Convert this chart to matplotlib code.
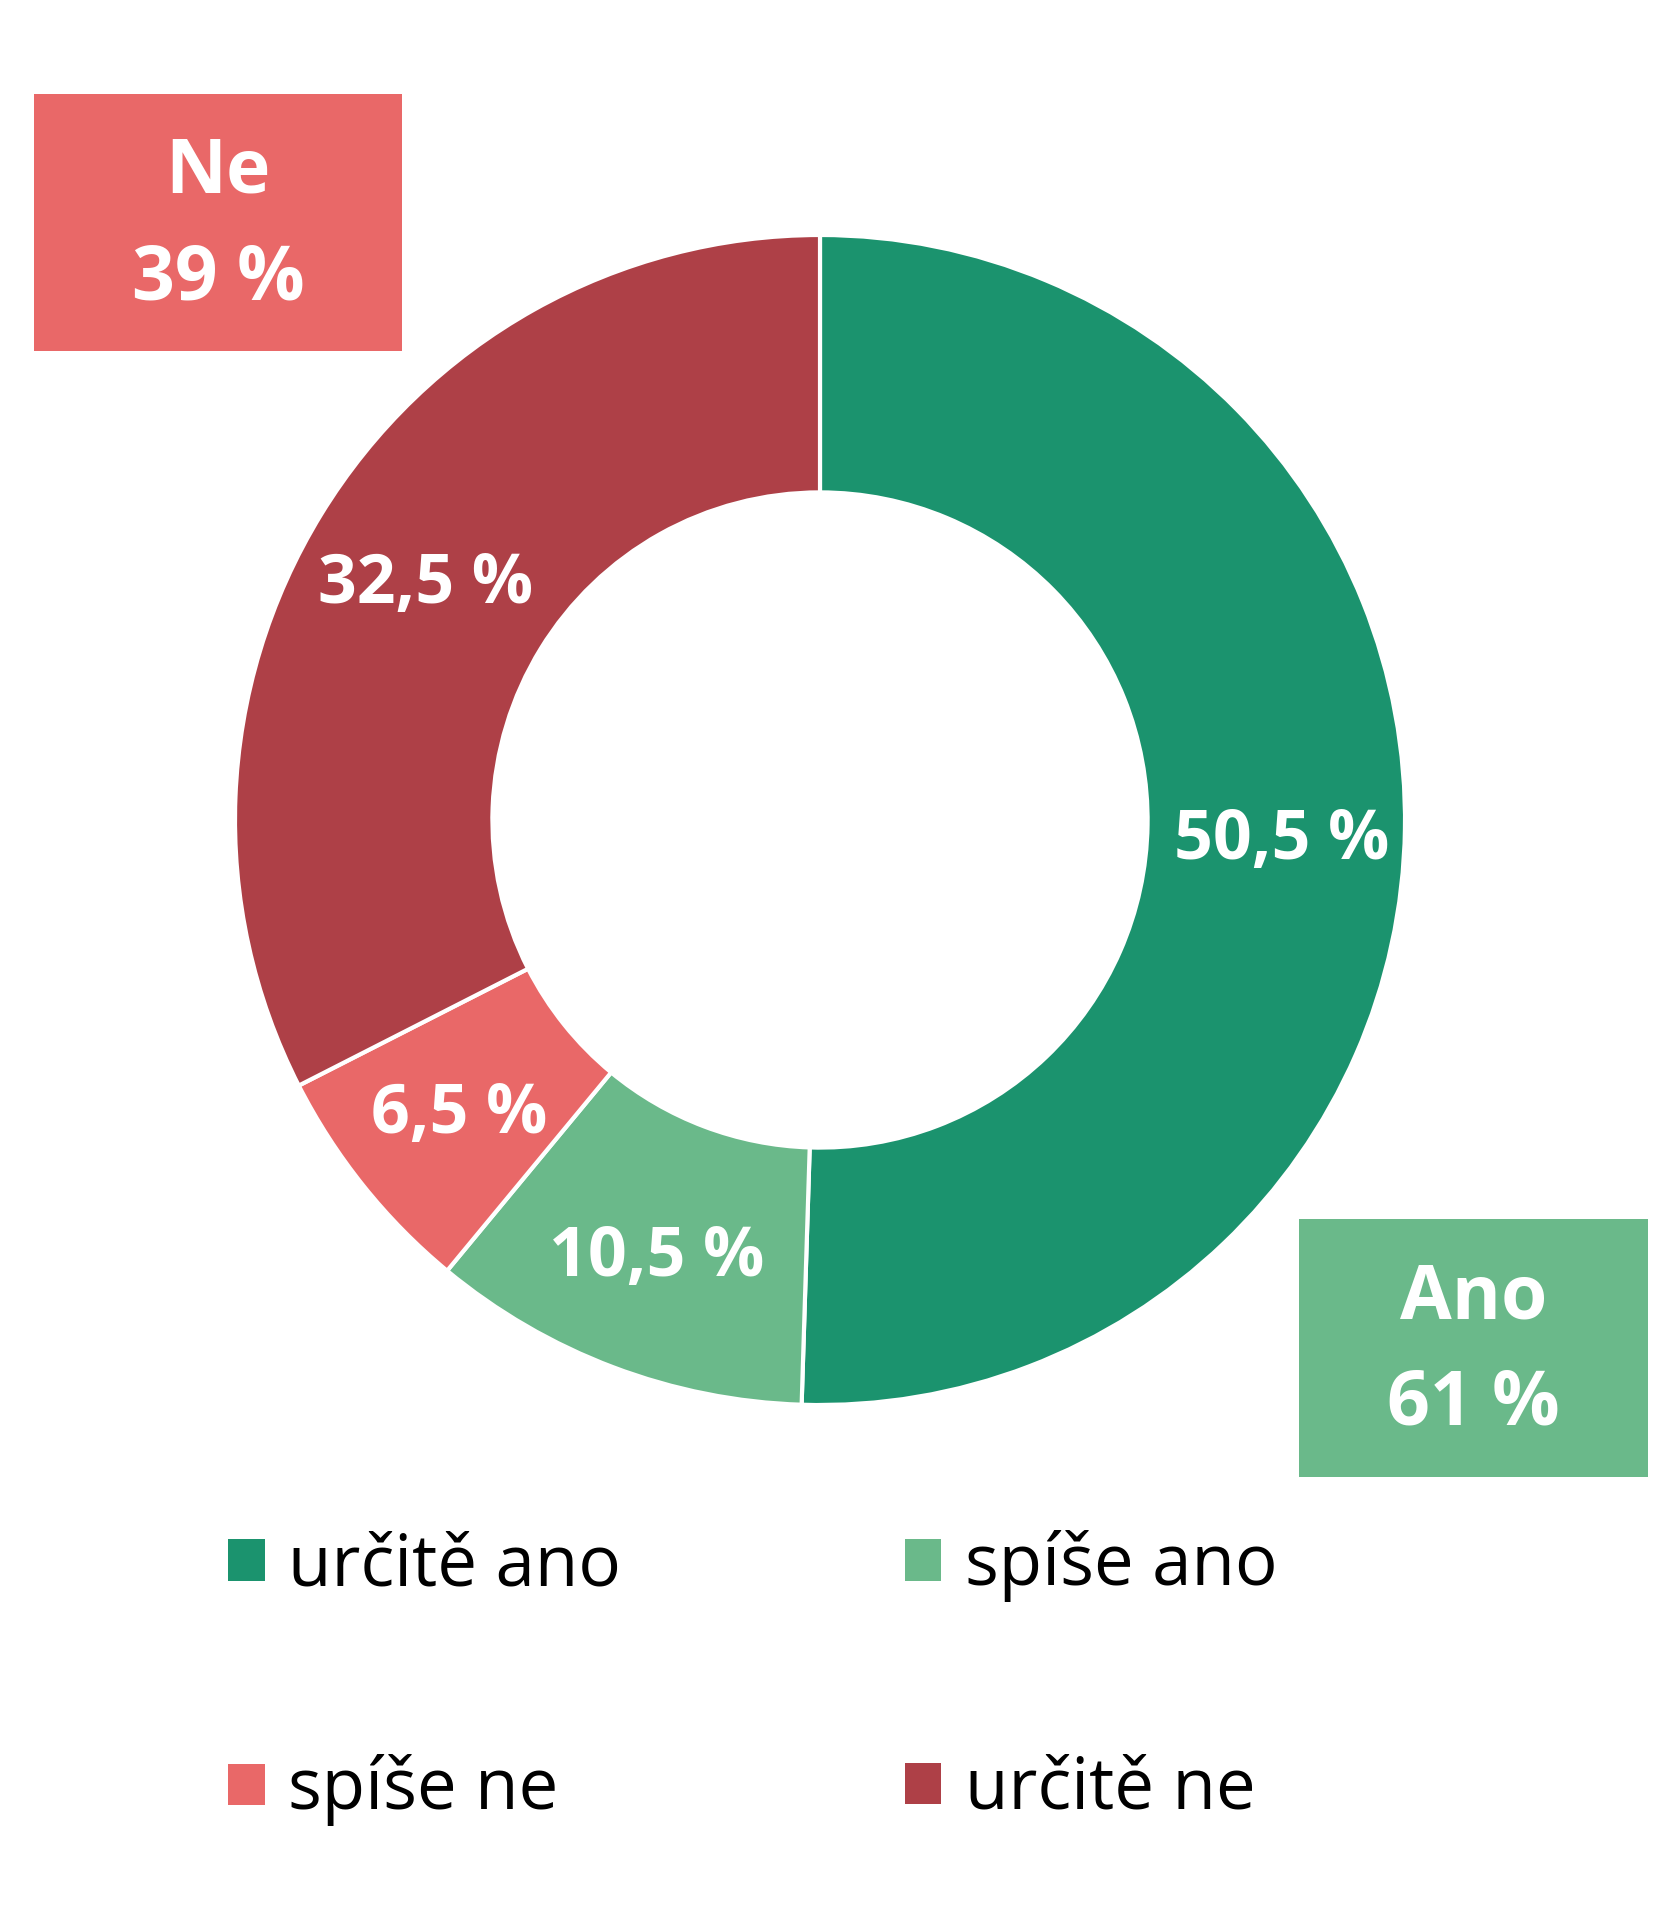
import matplotlib.pyplot as plt
from matplotlib.patches import Patch, Rectangle

plt.rcParams['font.family'] = ['Open Sans', 'DejaVu Sans']

# data
categories = ['určitě ano', 'spíše ano', 'spíše ne', 'určitě ne']
values = [50.5, 10.5, 6.5, 32.5]
colors = ['#1b936e', '#6ab98a', '#e96868', '#ae4047']
group_labels = ['Ano', 'Ne']
group_values = [61, 39]
group_colors = ['#6ab98a', '#e96868']

W, H = 1681, 1920
fig = plt.figure(figsize=(W / 100, H / 100), dpi=100)
ax = fig.add_axes([0, 0, 1, 1])

cx, cy = 820, H - 820
R = 585

wedges, texts, autotexts = ax.pie(
    values, colors=colors, startangle=90, counterclock=False,
    center=(cx, cy), radius=R,
    wedgeprops=dict(width=R * 0.44, edgecolor='white', linewidth=3),
    autopct=lambda p: f'{p:.1f} %'.replace('.', ','), pctdistance=0.79,
    textprops=dict(color='white', fontsize=49, fontweight='bold'))
# nudge the big label a bit lower, as in the original
autotexts[0].set_y(autotexts[0].get_position()[1] - 14)
for t in autotexts[1:]:
    x, y = t.get_position()
    t.set_y(y - 6)

ax.set_xlim(0, W)
ax.set_ylim(0, H)
ax.set_aspect('equal')
ax.axis('off')

# summary boxes
boxes = [(1299, H - 1477, 349, 258), (34, H - 351, 368, 257)]
for (x, y, w, h), lab, val, col in zip(boxes, group_labels, group_values, group_colors):
    ax.add_patch(Rectangle((x, y), w, h, facecolor=col, edgecolor='none'))
    ax.text(x + w / 2, y + h / 2 - 4, f'{lab}\n{val} %', ha='center', va='center',
            color='white', fontsize=54, fontweight='bold', linespacing=1.55)

order = [0, 2, 1, 3]
handles = [Patch(facecolor=colors[i], edgecolor='none') for i in order]
fig.legend(handles, [categories[i] for i in order], ncol=2,
           loc='upper left', bbox_to_anchor=(228 / W, 1 - 1530 / H),
           frameon=False, fontsize=51, handlelength=0.52, handleheight=0.52,
           handletextpad=0.33, columnspacing=4.0, labelspacing=2.15,
           borderpad=0, borderaxespad=0)

fig.savefig('out.png', dpi=100)
